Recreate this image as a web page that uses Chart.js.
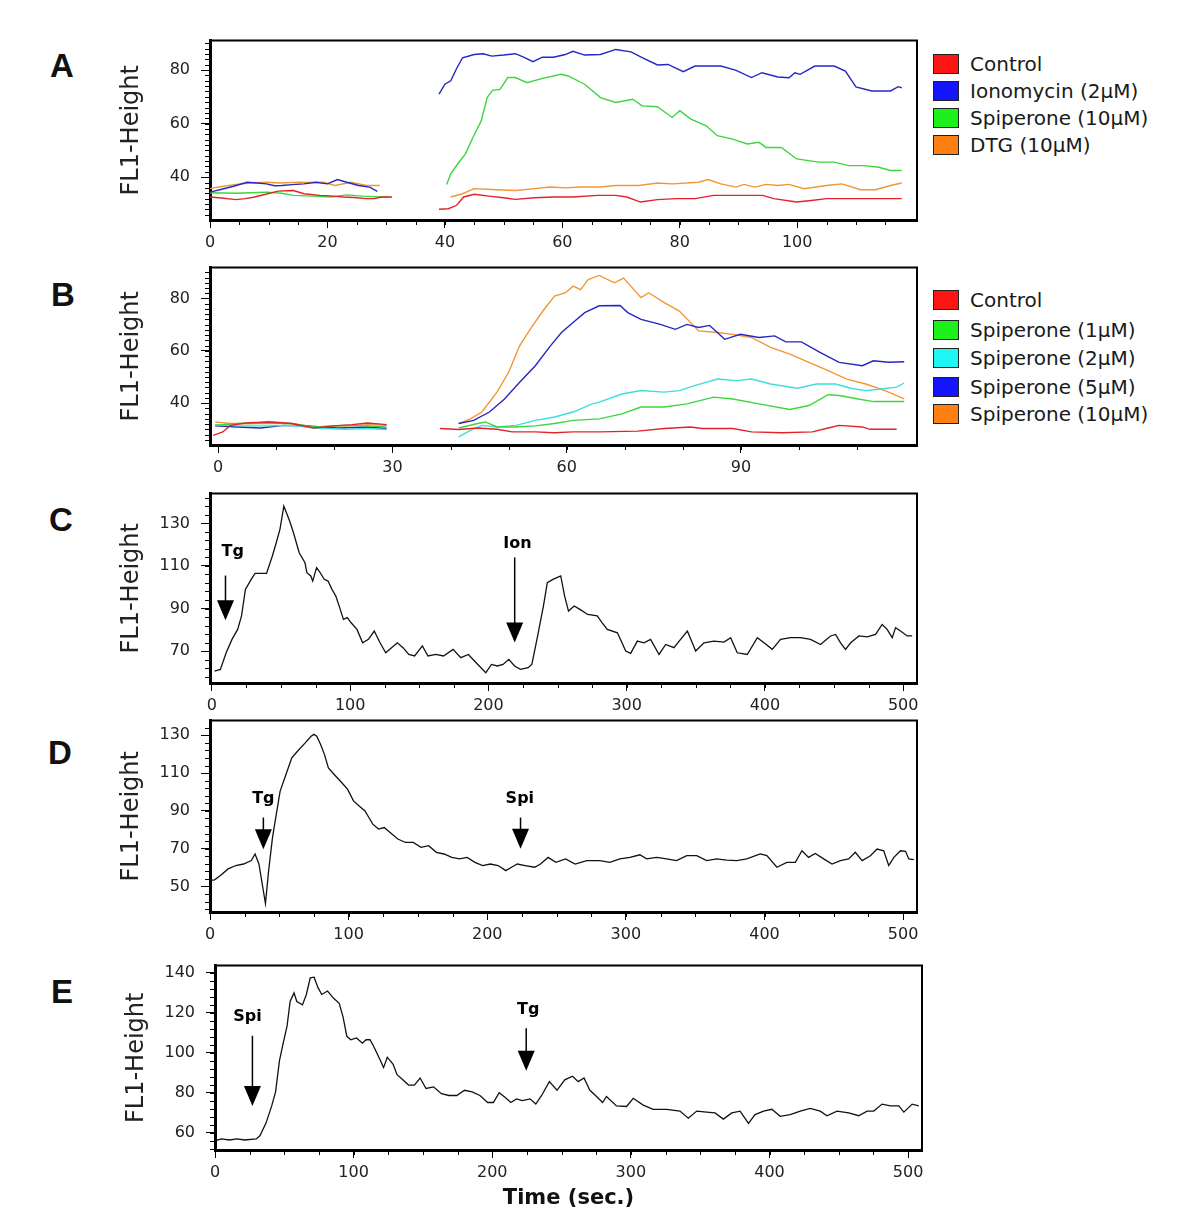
<!DOCTYPE html>
<html>
<head>
<meta charset="utf-8">
<script src="https://cdn.jsdelivr.net/npm/chart.js@4.4.1/dist/chart.umd.min.js"></script>
<style>
  body { margin: 0; background: #fff; width: 1200px; height: 1221px; position: relative; overflow: hidden; font-family: "DejaVu Sans", sans-serif; color: #1a1a1a; }
  canvas { position: absolute; }
  .letter { position: absolute; font: bold 33px "Liberation Sans", Arial, sans-serif; line-height: 1; transform: translate(-50%, -50%); color: #111; }
  .row { position: absolute; left: 933px; height: 20px; display: flex; align-items: center; font-size: 20px; white-space: nowrap; }
  .sq { width: 26px; height: 20px; box-sizing: border-box; border: 1.5px solid #222; margin-right: 11px; }
</style>
</head>
<body>
<div class="letter" style="left:62px;top:65px">A</div>
<div class="letter" style="left:63px;top:294px">B</div>
<div class="letter" style="left:61px;top:519px">C</div>
<div class="letter" style="left:60px;top:752px">D</div>
<div class="letter" style="left:62px;top:991px">E</div>

<canvas id="chartA" width="827" height="240" style="left:100px;top:20px"></canvas>
<canvas id="chartB" width="827" height="238" style="left:100px;top:247px"></canvas>
<canvas id="chartC" width="827" height="250" style="left:100px;top:473px"></canvas>
<canvas id="chartD" width="827" height="252" style="left:100px;top:700px"></canvas>
<canvas id="chartE" width="827" height="270" style="left:105px;top:945px"></canvas>

<div id="legendA"></div>
<div id="legendB"></div>

<script>
// ---- panel A: [time, value], null = gap between the two recordings
const aLabels = ["Control", "Ionomycin (2\u03bcM)", "Spiperone (10\u03bcM)", "DTG (10\u03bcM)"];
const aControl = [[0,32.6],[2,32.2],[4.4,31.6],[6,32],[7.6,32.6],[9.5,33.6],[11.6,34.8],[14.2,35],[16,33.8],[18.7,33.2],[20.5,33],[22.7,32.6],[24.5,32.4],[26.6,32],[28,32],[29.2,32.6],[31,32.6],
  [35,null],
  [39,28],[40.6,28.2],[42,29.5],[43.2,32.6],[45,33.6],[47.5,32.9],[50,32.3],[52,31.7],[55.3,32.3],[58.5,32.6],[61.8,32.6],[66,33.2],[69.1,33.2],[71,32.6],[73.3,30.7],[76.2,31.6],[79.4,32],[82.6,32],[85.8,33.2],[90,33.2],[94.1,33.2],[96,32],[99.9,30.7],[102.4,31.3],[105,32],[110,32],[114,32],[117.8,32]];
const aIono = [[0,34.4],[2,35.5],[4,36.6],[6.3,38.1],[8,37.8],[9.6,37.5],[11,36.8],[12.2,36.9],[14,37.2],[16,37.5],[18,38.1],[20,37.5],[21.7,39.1],[23.3,38.1],[25.3,36.9],[27.2,36.3],[28.5,34.7],
  [35,null],
  [39,71],[40,74.7],[41,76],[42,80.6],[43,84.6],[45,85.8],[46.5,86.1],[48,85.2],[50,85.6],[52,86.1],[53.4,84.8],[55,83.1],[56.6,84.8],[58.5,84.8],[60.5,85.8],[61.8,87],[63.8,85.6],[66.5,85.8],[69.1,87.7],[71.7,86.8],[73.6,84.6],[76.2,81.9],[78,82.1],[80.6,79.4],[82.6,81.5],[87,81.5],[89.6,79.9],[92.2,77.2],[94,79],[96.7,77.4],[98.6,77.1],[99.6,79],[100.5,78.4],[103,81.5],[106.3,81.5],[108.2,79.6],[110,73.7],[112.7,72.2],[115.9,72.2],[117.2,73.8],[117.8,73.4]];
const aSpi = [[0,34.2],[4.4,34],[7,34.2],[9.6,34.4],[12.2,34],[14.2,33.2],[17.4,32.9],[20.7,32.6],[23.3,33.4],[25.9,32.9],[29.2,32.6],[30.5,32.6],
  [35,null],
  [40.3,37.3],[41,41.2],[42.2,45],[43.5,48.7],[44.8,54.9],[46.2,61.1],[47.2,69.7],[48.1,72.4],[49.4,72.8],[50.7,77.2],[52,77.2],[54,75.3],[56.6,76.9],[59.8,78.4],[61,77.8],[63.8,74.7],[66.5,69.7],[69.1,67.9],[72,69.1],[73.6,66.6],[76.2,66.3],[78.7,62.3],[80,64.8],[81.9,61.7],[84.5,59.2],[86.4,55.5],[89,54.2],[91.5,52.4],[93.5,53],[94.7,51.1],[97.3,51.1],[99.9,46.8],[103.7,45.6],[106.3,45.6],[108.8,44.3],[111.4,44.3],[113.9,43.7],[115.9,42.5],[117.8,42.5]];
const aDtg = [[0,35.7],[2,36.5],[4.4,37.3],[7,37.8],[9.6,38.1],[12,37.8],[14.8,38.1],[17,38],[19.3,38.1],[21.3,36.9],[24,38.1],[26.6,36.9],[28.9,36.9],
  [35,null],
  [41,32.6],[43,33.8],[45,35.7],[48.8,35.3],[52,35],[55.3,35.7],[57.9,36.3],[60.5,36],[63,36.3],[66.5,36.3],[69.1,36.9],[73,36.9],[76.2,37.8],[78.7,37.5],[83.2,38.1],[84.8,39.1],[87,37.5],[89.6,36.3],[90.9,37.3],[92.8,36.3],[94.7,37.3],[96.7,36.9],[98.6,37.3],[101.2,35.7],[105,36.9],[107.6,37.5],[110.8,35.3],[113.3,35.3],[115.9,36.9],[117.8,37.8]];

// ---- panel B
const bLabels = ["Control", "Spiperone (1\u03bcM)", "Spiperone (2\u03bcM)", "Spiperone (5\u03bcM)", "Spiperone (10\u03bcM)"];
const bControl = [[-0.85,27.7],[0.8,29],[2.1,31.5],[4.7,32.4],[8.7,32.8],[12.6,32.2],[16.5,30.5],[19.8,31.3],[23.1,31.8],[25.7,32.4],[29,31.8],
  [35,null],
  [38.2,30.3],[41.4,29.9],[44.7,30.5],[48,30],[50.6,29],[54.6,29],[57.9,28.7],[61.1,29],[65.6,29],[72.2,29.3],[76.8,30.3],[81.3,30.9],[83.3,30.3],[88.6,30.3],[91.8,29],[97.1,28.7],[102.3,29],[105,30.5],[106.9,31.5],[110.9,30.9],[112.2,30],[116.8,30]];
const bSpi1 = [[-0.5,31.5],[3.4,32.2],[8.7,32.2],[12.6,32.2],[16.5,30.9],[21.8,31.5],[25.7,31.3],[29,30.9],
  [35,null],
  [41.4,30.5],[44.7,32.2],[46,32.8],[48,30.9],[51.3,30.9],[54.6,31.3],[57.9,32.2],[61.1,33.4],[65.6,34],[69.5,35.9],[72.8,38.5],[76.8,38.5],[80.7,39.7],[85.3,42.3],[88.6,41.6],[93.1,39.7],[98.4,37.6],[101.7,39.1],[105,43.2],[106.9,42.9],[110.2,41.6],[112.8,40.6],[118.1,40.6]];
const bSpi2 = [[-0.5,31.8],[3.4,31.3],[8.7,31.3],[12.6,31.5],[16.5,30.5],[21.8,30],[25.7,30.3],[29,29.9],
  [35,null],
  [41.4,27.1],[43.4,29.6],[45.4,31.5],[48,30.9],[51.3,31.5],[54.6,33.4],[57.9,34.7],[61.1,36.6],[64.4,39.7],[65.6,40.4],[69.5,43.5],[72.8,44.8],[76.8,44.2],[79.4,44.8],[82,46.7],[86,49.2],[89.2,48.6],[91.8,49.2],[95.1,47.3],[99.7,45.7],[103,47.3],[106.3,47.3],[108.9,45.7],[111.5,44.8],[114.1,45.4],[116.8,46.1],[118.1,47.7]];
const bSpi5 = [[-0.5,31.3],[3.4,30.9],[7.3,30.5],[11.3,31.5],[15.2,31.3],[20.5,30.5],[25.7,30.9],[29,30.3],
  [35,null],
  [41.4,32.2],[44,33.4],[46.7,36.6],[49.3,41.6],[51.9,48],[54.6,54.3],[57.2,61.9],[59.1,67],[61.1,70.8],[63.1,74.6],[65.6,77.2],[69.2,77.3],[70.5,74.6],[72.8,72],[76.1,70.1],[78.7,68.2],[80.7,70.1],[82.7,68.9],[84.6,69.7],[87.2,64.4],[89.9,66.3],[93.1,65.1],[95.8,65.7],[97.7,63.4],[100.4,63.4],[103.6,59.4],[106.9,55.6],[110.9,54.3],[112.8,56.2],[115.4,55.6],[118.1,55.8]];
const bSpi10 = [[-0.5,32.8],[2.1,32.2],[6,32.2],[8.7,33],[12.6,32.2],[16.5,30.9],[21.8,31.3],[25.7,31.8],[29,31.5],
  [35,null],
  [41.4,32.2],[43.4,34],[45.4,36.6],[48,44.2],[50,51.8],[51.9,61.9],[53.9,68.9],[55.9,75.2],[57.9,80.9],[59.8,82.2],[61.1,84.7],[62.4,83.4],[63.7,87.2],[65.6,88.8],[68.2,86],[69.8,87.8],[72.8,80.3],[74.1,82.2],[76.8,78.4],[79.4,75.2],[82.7,67.6],[86,67],[88.6,66.3],[91.8,65.1],[95.1,61.3],[98.4,58.7],[101.7,55.6],[105,52.4],[108.2,49.2],[111.5,47.3],[114.8,44.8],[118.1,41.6]];

// ---- panels C, D, E
const cTrace = [[1.9,60.6],[6.1,61.4],[10.3,69.2],[14.5,75.5],[18.6,80.2],[21.4,86.5],[24.2,99],[28.4,103.7],[31.2,106.5],[39.5,106.5],[43.7,114.7],[46.5,120.9],[49.2,127.2],[52,138.1],[53.4,135.8],[56.2,131.1],[59,125.6],[63.1,116.2],[67.3,111.5],[68.7,106.8],[71.5,105.3],[72.9,102.9],[75.7,109.2],[78.4,106.8],[81.2,103.7],[84,102.9],[86.8,99],[89.6,95.9],[92.4,90.4],[95.1,84.9],[97.9,85.7],[100.7,83.3],[104.9,80.2],[109,73.9],[113.2,75.5],[117.4,79.4],[121.6,73.9],[125.7,69.2],[129.9,71.6],[134.1,73.9],[138.2,71.6],[142.4,68.4],[146.6,67.7],[152.2,72.4],[156.3,67.7],[161.9,68.4],[167.5,67.7],[174.4,70.8],[180,66.9],[185.5,68.4],[191.1,64.5],[198.1,59.8],[202.2,63.7],[206.4,63],[210.6,63.7],[214.7,66.1],[218.9,63],[223.1,61.4],[228.7,62.2],[231.4,63.7],[235.6,77.1],[239.8,91.2],[242.6,102.1],[246.7,103.7],[252.3,105.3],[255.1,95.9],[257.9,88.8],[262,91.2],[266.2,89.6],[271.8,87.2],[278.7,86.5],[282.3,83.3],[286,80.2],[293.3,78.6],[299.3,70],[302.9,68.9],[307.7,74.7],[312.5,73.9],[317.3,75.5],[323.4,68.4],[328.2,73.1],[334.2,71.6],[339,75.5],[343.9,79.4],[349.9,70],[355.9,73.9],[363.1,74.7],[370.4,74.2],[375.2,76.3],[380,69.2],[387.2,68.4],[394.5,76.3],[399.3,73.9],[405.3,70.8],[411.3,75.5],[418.6,76.3],[425.8,76.3],[433,75.5],[440.2,73.1],[447.5,77.1],[451.1,77.8],[454.7,73.9],[458.3,70.8],[462,73.9],[468,77.1],[474,76.7],[480,77.8],[484.8,82.5],[488.4,80.2],[492.1,76.3],[494.5,81],[498.1,79.4],[502.9,77.1],[506.5,77.1]];
const dTrace = [[0,53.2],[3.3,53.5],[7.5,55.8],[13.1,59.3],[18.6,61.1],[24.2,61.9],[29.8,63.7],[32.5,67.2],[35.3,61.9],[40,41],[42.3,58.4],[45.1,76],[47.8,88.2],[50.6,100.5],[54.8,109.3],[59,118.1],[63.1,121.6],[68.7,126],[72.9,129.5],[75,130.5],[77,129.5],[79.8,125.1],[82.6,119.8],[85.4,112.8],[89.6,109.3],[95.1,104.9],[99.3,101.4],[103.5,95.3],[107.6,92.6],[111.8,90],[114.6,86.5],[117.4,83],[121.6,80.4],[125.7,81.2],[129.9,78.6],[135.5,75.1],[141,73.3],[146.6,73.3],[152.2,70.7],[157.7,71.6],[163.3,68.1],[168.8,67.2],[174.4,65.4],[180,64.6],[185.5,65.4],[191.1,62.8],[196.7,61.1],[202.2,61.9],[207.8,61.1],[213.4,58.4],[217.5,60.2],[221.7,61.9],[227.3,61.1],[234.2,60.2],[238.4,61.9],[243.9,65.4],[249.5,62.8],[256.5,64.6],[263.4,61.9],[271.8,63.7],[281.2,63.7],[288.4,62.8],[295.7,64.6],[302.9,65.4],[310.1,66.8],[314.9,64.6],[322.2,65.4],[329.4,64.6],[336.6,63.7],[343.9,66.3],[351.1,66.3],[358.3,63.7],[365.5,64.6],[372.8,64],[380,63.7],[387.2,64.6],[396.9,67.2],[401.7,66.3],[408.9,60.2],[416.1,62.8],[422.2,62.8],[427,68.9],[431.8,65.4],[436.6,67.5],[442.7,64.6],[448.7,61.9],[454.7,63.7],[460.7,64.6],[465.5,68.1],[470.4,63.7],[476.4,66.3],[481.2,69.8],[486,68.9],[489.6,61.1],[493.3,65.4],[498.1,68.9],[501.7,68.6],[504.1,64.6],[507.7,64.2]];
const eTrace = [[0,56.1],[4.7,57],[10.3,56.5],[15.9,57],[21.4,56.5],[29.8,57],[32.5,58.7],[36.7,64.8],[40.9,73.5],[43.7,80.5],[46.5,96.1],[49.2,104.8],[52,113.4],[54.2,125.6],[57,129.9],[59,125.6],[63.1,123.9],[65.9,129.1],[68.7,137.4],[71.5,137.7],[74.3,132.5],[77,129.1],[81.2,130.8],[85.4,127.3],[89.6,124.7],[92.4,117.8],[95.1,108.2],[97.9,106.5],[102.1,107.4],[106.3,104.8],[109,106.5],[111.8,106.5],[114.6,103],[118.8,96.9],[121.6,92.6],[124.3,97.8],[128.5,94.3],[131.3,89.1],[135.5,86.5],[139.6,83.9],[143.8,83.9],[148,87.4],[152.2,82.2],[157.7,83],[163.3,79.6],[168.8,78.7],[174.4,78.7],[180,81.3],[185.5,80.5],[191.1,78.7],[196.7,75.2],[200.8,75.2],[205,80.1],[209.2,77.8],[213.4,75.2],[217.5,77],[221.7,76.1],[227.3,77],[231.4,74.4],[235.6,78.7],[241.2,85.6],[246.7,81.3],[252.3,86.5],[257.9,88.3],[262,85.6],[266.2,87.4],[270.4,81.3],[274.5,78.7],[279.6,75.2],[282.4,78.2],[289.6,73.5],[296.9,73.2],[301.7,77.3],[308.9,73.9],[316.1,71.8],[325.8,71.8],[335.4,70.9],[341.4,67.4],[347.5,70.9],[354.7,70.4],[360.7,70],[366.7,66.9],[372.8,70],[378.8,70.9],[384.8,64.8],[389.6,69.2],[395.7,70.9],[401.7,71.8],[407.7,68.3],[414.9,69.2],[422.2,70.9],[429.4,72.3],[436.6,70.9],[441.4,68.6],[448.7,70.9],[457.1,70],[464.3,68.6],[470.4,70.9],[475.2,70.9],[481.2,74.4],[487.2,73.5],[493.3,73.5],[496.9,70.4],[502.9,74.4],[507.7,73.5]];

// arrow marks: x, line top, tip, label x, label y (all data units)
const cArrows = [{label: "Tg", x: 9.8, top: 105.5, tip: 84.5, lx: 15, ly: 116.5}, {label: "Ion", x: 219, top: 114, tip: 74, lx: 221, ly: 120.2}];
const dArrows = [{label: "Tg", x: 38.5, top: 86.5, tip: 69.7, lx: 38.5, ly: 96.5}, {label: "Spi", x: 224, top: 86.5, tip: 70, lx: 223.5, ly: 96.5}];
const eArrows = [{label: "Spi", x: 27, top: 108.5, tip: 73.5, lx: 23.5, ly: 118}, {label: "Tg", x: 224.5, top: 112.3, tip: 91, lx: 226, ly: 121.5}];

// tick values
const aXMajor = [0, 20, 40, 60, 80, 100];
const bXMajor = [0, 30, 60, 90];
const longXMajor = [0, 100, 200, 300, 400, 500];
const abYMajor = [40, 60, 80];
const cYMajor = [70, 90, 110, 130];
const dYMajor = [50, 70, 90, 110, 130];
const eYMajor = [60, 80, 100, 120, 140];

const red = "#e3232b", blue = "#2626c4", green = "#3dd63d", orange = "#f29633", cyan = "#3ddede";
const legendRed = "#ff1414", legendBlue = "#1414ff", legendGreen = "#1ef01e", legendOrange = "#ff8012", legendCyan = "#1ef5f5";

function steps(from, to, step) {
  const out = [];
  for (let v = from; v <= to + 1e-9; v += step) out.push(Math.round(v * 100) / 100);
  return out;
}

function buildLegend(id, labels, colors, centers) {
  const box = document.getElementById(id);
  labels.forEach((text, i) => {
    const row = document.createElement("div");
    row.className = "row";
    row.style.top = (centers[i] - 10) + "px";
    row.innerHTML = '<div class="sq" style="background:' + colors[i] + '"></div><span>' + text + "</span>";
    box.appendChild(row);
  });
}
buildLegend("legendA", aLabels, [legendRed, legendBlue, legendGreen, legendOrange], [64, 91, 118, 145]);
buildLegend("legendB", bLabels, [legendRed, legendGreen, legendCyan, legendBlue, legendOrange], [300, 330, 358, 387, 414]);

// box top/right, minor ticks and arrow marks
const panelExtras = {
  id: "panelExtras",
  afterDraw(chart, args, opts) {
    const { ctx, chartArea: a } = chart;
    const x = chart.scales.x, y = chart.scales.y;
    ctx.save();
    ctx.strokeStyle = "#000";
    ctx.fillStyle = "#000";
    ctx.lineWidth = 2;
    ctx.beginPath();
    ctx.moveTo(a.left, a.top);
    ctx.lineTo(a.right, a.top);
    ctx.lineTo(a.right, a.bottom);
    ctx.stroke();

    ctx.lineWidth = 1;
    ctx.beginPath();
    (opts.xMinor || []).forEach(v => {
      const px = Math.round(x.getPixelForValue(v)) + 0.5;
      ctx.moveTo(px, a.bottom);
      ctx.lineTo(px, a.bottom + 5);
    });
    (opts.yMinor || []).forEach(v => {
      const py = Math.round(y.getPixelForValue(v)) + 0.5;
      ctx.moveTo(a.left - 5, py);
      ctx.lineTo(a.left, py);
    });
    ctx.stroke();

    (opts.arrows || []).forEach(m => {
      const ax = x.getPixelForValue(m.x);
      const top = y.getPixelForValue(m.top);
      const tip = y.getPixelForValue(m.tip);
      ctx.lineWidth = 1.5;
      ctx.beginPath();
      ctx.moveTo(ax, top);
      ctx.lineTo(ax, tip - 18);
      ctx.stroke();
      ctx.beginPath();
      ctx.moveTo(ax - 8.5, tip - 20);
      ctx.lineTo(ax + 8.5, tip - 20);
      ctx.lineTo(ax, tip);
      ctx.closePath();
      ctx.fill();
      ctx.font = 'bold 16px "DejaVu Sans"';
      ctx.textAlign = "center";
      ctx.textBaseline = "middle";
      ctx.fillText(m.label, x.getPixelForValue(m.lx), y.getPixelForValue(m.ly));
    });
    ctx.restore();
  }
};

function makePanel(id, cfg) {
  const tickFont = { family: "DejaVu Sans", size: 16 };
  new Chart(document.getElementById(id), {
    type: "line",
    data: {
      datasets: cfg.series.map(s => ({
        data: s.pts.map(p => ({ x: p[0], y: p[1] })),
        borderColor: s.color,
        borderWidth: s.width || 1.4,
        pointRadius: 0,
        tension: 0,
        spanGaps: false,
        fill: false
      }))
    },
    options: {
      responsive: false,
      animation: false,
      devicePixelRatio: 1,
      layout: { padding: { top: 10, right: 10, left: 0, bottom: 0 } },
      plugins: {
        legend: { display: false },
        tooltip: { enabled: false },
        panelExtras: { xMinor: cfg.xMinor, yMinor: cfg.yMinor, arrows: cfg.arrows }
      },
      scales: {
        x: {
          type: "linear",
          min: cfg.xMin,
          max: cfg.xMax,
          afterBuildTicks: s => { s.ticks = cfg.xMajor.map(v => ({ value: v })); },
          afterFit: s => { s.height = cfg.xHeight || 40; },
          grid: { drawOnChartArea: false, tickLength: 8, color: "#000", lineWidth: 1 },
          border: { color: "#000", width: 3 },
          ticks: { font: tickFont, color: "#222", padding: 5, maxRotation: 0, autoSkip: false, callback: v => String(v) },
          title: cfg.xTitle
            ? { display: true, text: cfg.xTitle, color: "#111", font: { family: "DejaVu Sans", size: 21, weight: "bold" }, padding: { top: 0, bottom: 4 } }
            : { display: false }
        },
        y: {
          type: "linear",
          min: cfg.yMin,
          max: cfg.yMax,
          afterBuildTicks: s => { s.ticks = cfg.yMajor.map(v => ({ value: v })); },
          afterFit: s => { s.width = 110; },
          grid: { drawOnChartArea: false, tickLength: 9, color: "#000", lineWidth: 1 },
          border: { color: "#000", width: 3 },
          ticks: { font: tickFont, color: "#222", padding: 11, autoSkip: false, callback: v => String(v) },
          title: { display: true, text: "FL1-Height", color: "#222", font: { family: "DejaVu Sans", size: 24 }, padding: { top: 17, bottom: 0 } }
        }
      }
    },
    plugins: [panelExtras]
  });
}

makePanel("chartA", {
  series: [{ pts: aControl, color: red }, { pts: aIono, color: blue }, { pts: aSpi, color: green }, { pts: aDtg, color: orange }],
  xMin: 0, xMax: 120.4, yMin: 24, yMax: 91,
  xMajor: aXMajor, yMajor: abYMajor,
  xMinor: steps(5, 115, 5), yMinor: steps(26, 90, 2)
});

makePanel("chartB", {
  series: [{ pts: bControl, color: red }, { pts: bSpi1, color: green }, { pts: bSpi2, color: cyan }, { pts: bSpi5, color: blue }, { pts: bSpi10, color: orange }],
  xMin: -1.4, xMax: 120.3, yMin: 24, yMax: 91.8,
  xMajor: bXMajor, yMajor: abYMajor,
  xMinor: steps(10, 110, 10), yMinor: steps(26, 90, 2)
});

makePanel("chartC", {
  series: [{ pts: cTrace, color: "#111", width: 1.3 }],
  xMin: -1.4, xMax: 510, yMin: 55, yMax: 144,
  xMajor: longXMajor, yMajor: cYMajor,
  xMinor: steps(25, 500, 25), yMinor: steps(58, 142, 4),
  arrows: cArrows
});

makePanel("chartD", {
  series: [{ pts: dTrace, color: "#111", width: 1.3 }],
  xMin: 0, xMax: 510, yMin: 36.5, yMax: 137.8,
  xMajor: longXMajor, yMajor: dYMajor,
  xMinor: steps(25, 500, 25), yMinor: steps(38, 134, 4),
  arrows: dArrows
});

makePanel("chartE", {
  series: [{ pts: eTrace, color: "#111", width: 1.3 }],
  xMin: 0, xMax: 510, yMin: 51.5, yMax: 143.5,
  xMajor: longXMajor, yMajor: eYMajor,
  xMinor: steps(25, 500, 25), yMinor: steps(52, 140, 4),
  xHeight: 65, xTitle: "Time (sec.)",
  arrows: eArrows
});
</script>
</body>
</html>
